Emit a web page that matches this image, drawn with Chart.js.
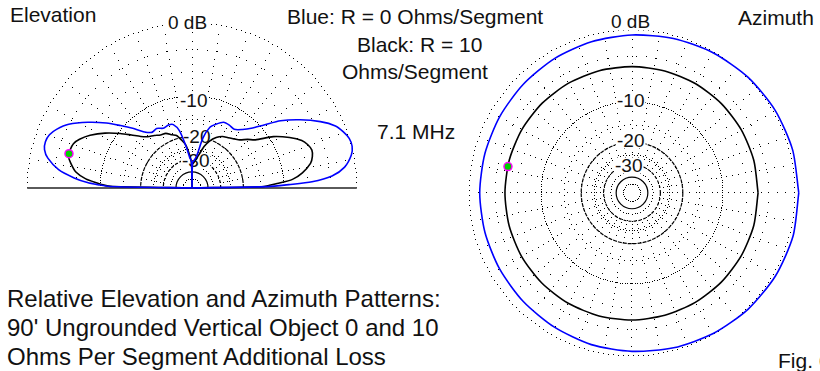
<!DOCTYPE html>
<html><head><meta charset="utf-8">
<script src="https://cdn.jsdelivr.net/npm/chart.js@4.4.1/dist/chart.umd.min.js"></script>
<style>
html,body{margin:0;padding:0;background:#fff;overflow:hidden;width:820px;height:371px}
body{position:relative;font-family:"Liberation Sans",Arial,sans-serif;color:#111}
.t{position:absolute;white-space:nowrap;font-size:21px;line-height:21px}
.r{position:absolute;white-space:nowrap;font-size:19px;line-height:19px}
.cap{position:absolute;left:7px;top:284px;font-size:24px;line-height:29px;white-space:nowrap}
canvas{position:absolute;z-index:2}
</style></head><body>
<div class="t" style="left:10px;top:4px">Elevation</div>
<div class="t" style="left:287px;top:5.5px">Blue: R = 0 Ohms/Segment</div>
<div class="t" style="left:357px;top:34px">Black: R = 10</div>
<div class="t" style="left:342px;top:61px">Ohms/Segment</div>
<div class="t" style="left:377px;top:120.5px">7.1 MHz</div>
<div class="t" style="left:738px;top:7px">Azimuth</div>
<div class="cap">Relative Elevation and Azimuth Patterns:<br>90' Ungrounded Vertical Object 0 and 10<br>Ohms Per Segment Additional Loss</div>
<div class="t" style="left:778px;top:350px">Fig. 6</div>

<div class="r" style="left:168px;top:13.4px">0 dB</div>
<div class="r" style="left:180px;top:91px">-10</div>
<div class="r" style="left:183px;top:127px">-20</div>
<div class="r" style="left:182px;top:151px">-30</div>
<div class="r" style="left:611px;top:12.4px">0 dB</div>
<div class="r" style="left:617px;top:90.6px">-10</div>
<div class="r" style="left:617px;top:130.6px">-20</div>
<div class="r" style="left:615px;top:155.6px">-30</div>

<canvas id="elev" width="360" height="187" style="left:12px;top:13px"></canvas>
<canvas id="azim" width="364" height="358" style="left:450px;top:11px"></canvas>
<script>
// grid rings (dB) on the ARRL log scale
const ringLevels=[0,-3,-6,-10,-15,-20,-25,-30,-35,-40,-50];

// elevation: angle from right horizon (deg), relative gain dB
const elevAngles=[0,1,2,3,5,8,12,15,18,21,24,28,33,38,42,46,50,55,60,65,70,74,78,82,86,89,90,
  91,94,98,102,106,110,115,120,125,130,134,138,142,147,152,156,159,162,165,168,172,175,177,178,179,180];
const elevBlue=[-99,-13.37,-9.11,-5.42,-2.73,-1.15,-0.20,0.10,0.05,-0.31,-0.83,-2.15,-4.21,-6.56,-9.11,-11.30,-12.72,-13.82,-13.59,-13.59,-14.74,-15.98,-19.68,-27.62,-30.35,-31.58,-99,
  -30.96,-28.66,-22.81,-17.31,-15.23,-14.98,-15.23,-14.51,-14.74,-13.37,-11.30,-9.28,-7.16,-4.87,-2.85,-1.81,-1.31,-1.15,-1.31,-1.92,-3.46,-5.69,-7.79,-9.63,-11.90,-99];
const elevBlack=[-99,-14.74,-12.94,-11.30,-8.43,-6.71,-5.28,-4.80,-4.60,-4.87,-5.42,-6.86,-9.11,-12.31,-13.59,-14.98,-15.73,-16.50,-17.04,-18.16,-20.00,-22.44,-26.17,-29.21,-31.58,-32.90,-99,
  -32.23,-27.13,-22.43,-20.33,-18.46,-17.87,-16.77,-16.50,-15.73,-14.98,-13.82,-12.10,-10.17,-7.95,-6.12,-5.01,-4.47,-4.34,-4.34,-4.87,-5.84,-7.47,-9.45,-10.54,-12.51,-99];
const elevCursorAngle=[164];
const elevCursorVal=[-4.34];

// azimuth: angle (deg, 0 = right, counter-clockwise), relative gain dB
const azAngles=[0,15,30,45,60,75,90,105,120,135,150,165,180,195,210,225,240,255,270,285,300,315,330,345];
const azBlue=[0.40,0.35,0.25,0.10,-0.10,-0.31,-0.52,-0.68,-0.84,-1.00,-1.11,-1.16,-1.16,-1.16,-1.11,-1.00,-0.84,-0.62,-0.47,-0.26,-0.05,0.15,0.30,0.40];
const azBlack=[-4.40,-4.40,-4.38,-4.36,-4.35,-4.36,-4.36,-4.33,-4.30,-4.28,-4.27,-4.27,-4.27,-4.25,-4.22,-4.20,-4.20,-4.22,-4.25,-4.30,-4.34,-4.37,-4.40,-4.40];
const azCursorAngle=[168];
const azCursorVal=[-4.3];

// ring look: dot spacing in px, or a stroke dash
const ringStyle={'0':{dot:5},'-3':{dot:10},'-6':{dot:10},'-10':{dot:2.5},'-15':{dot:6},'-20':{dash:[4,1]},
  '-25':{dot:3},'-30':{dash:[3,2]},'-35':{dot:3},'-40':{dash:[]},'-50':{dot:2}};

const rad=dB=>Math.pow(0.89,-dB/2);
const toXY=(angles,vals)=>angles.map((a,i)=>({x:rad(vals[i])*Math.cos(a*Math.PI/180),y:rad(vals[i])*Math.sin(a*Math.PI/180)}));
const dot=(ctx,x,y)=>ctx.fillRect(Math.round(x-0.5),Math.round(y-0.5),1,1);

function polarGrid(half){
  return {id:'polarGrid',beforeDatasetsDraw(chart){
    const {ctx,scales:{x,y}}=chart;
    const cx=x.getPixelForValue(0),cy=y.getPixelForValue(0);
    const R=x.getPixelForValue(1)-cx;
    const cr=chart.canvas.getBoundingClientRect();
    const span=half?Math.PI:2*Math.PI;
    ctx.save();
    // keep the grid out from under the dB labels
    ctx.beginPath();ctx.rect(0,0,chart.width,chart.height);
    document.querySelectorAll('.r').forEach(el=>{const b=el.getBoundingClientRect();
      ctx.rect(b.left-cr.left-1,b.top-cr.top+2,b.width+2,b.height-3);});
    ctx.clip('evenodd');
    ctx.fillStyle='#000';ctx.strokeStyle='#000';ctx.lineWidth=1.2;
    ringLevels.forEach(db=>{
      const st=ringStyle[String(db)],r=R*rad(db);
      if(st.dot){
        const n=Math.round(r*span/st.dot);
        for(let i=0;i<=n;i++){const a=span*i/n;dot(ctx,cx+r*Math.cos(a),cy-r*Math.sin(a));}
      }else{
        ctx.setLineDash(st.dash);ctx.beginPath();
        if(half) ctx.arc(cx,cy,r,0,-Math.PI,true); else ctx.arc(cx,cy,r,0,2*Math.PI);
        ctx.stroke();
      }
    });
    // spokes every 10 deg, a dot per dB step
    const steps=[];
    for(let k=1;k<=12;k++) steps.push(-k);
    for(let k=14;k<=30;k+=2) steps.push(-k);
    for(let a=half?10:0;a<(half?180:360);a+=10){
      const c=Math.cos(a*Math.PI/180),s=Math.sin(a*Math.PI/180);
      steps.forEach(db=>{const r=R*rad(db);dot(ctx,cx+r*c,cy-r*s);});
    }
    ctx.restore();
    if(half){
      ctx.save();ctx.strokeStyle='#5a5a5a';ctx.lineWidth=2;
      ctx.beginPath();ctx.moveTo(cx-R,cy);ctx.lineTo(cx+R,cy);ctx.stroke();ctx.restore();
    }
  }};
}

function polarChart(id,R,cxPx,cyPx,half,sets){
  const cv=document.getElementById(id);
  const w=cv.width,h=cv.height;
  const line=(data,color)=>({data,showLine:true,borderColor:color,borderWidth:1.6,pointRadius:0,tension:0.25,fill:false});
  return new Chart(cv,{type:'scatter',
    data:{datasets:[
      {data:sets.cursor,showLine:false,pointRadius:4,pointBackgroundColor:'#00d000',pointBorderColor:'#ff00ff',pointBorderWidth:1.5},
      line(sets.blue,'#0000ff'),
      line(sets.black,'#000000')]},
    options:{responsive:false,maintainAspectRatio:false,animation:false,events:[],
      layout:{padding:0},
      plugins:{legend:{display:false},tooltip:{enabled:false}},
      scales:{x:{type:'linear',display:false,min:-cxPx/R,max:(w-cxPx)/R},
              y:{type:'linear',display:false,min:-(h-cyPx)/R,max:cyPx/R}}},
    plugins:[polarGrid(half)]});
}

const azClose=a=>a.concat([a[0]]);
polarChart('elev',170,180,180,true,{
  blue:toXY(elevAngles,elevBlue),
  black:toXY(elevAngles,elevBlack),
  cursor:toXY(elevCursorAngle,elevCursorVal)});
polarChart('azim',168,182,182,false,{
  blue:toXY(azClose(azAngles),azClose(azBlue)),
  black:toXY(azClose(azAngles),azClose(azBlack)),
  cursor:toXY(azCursorAngle,azCursorVal)});
</script>
</body></html>
